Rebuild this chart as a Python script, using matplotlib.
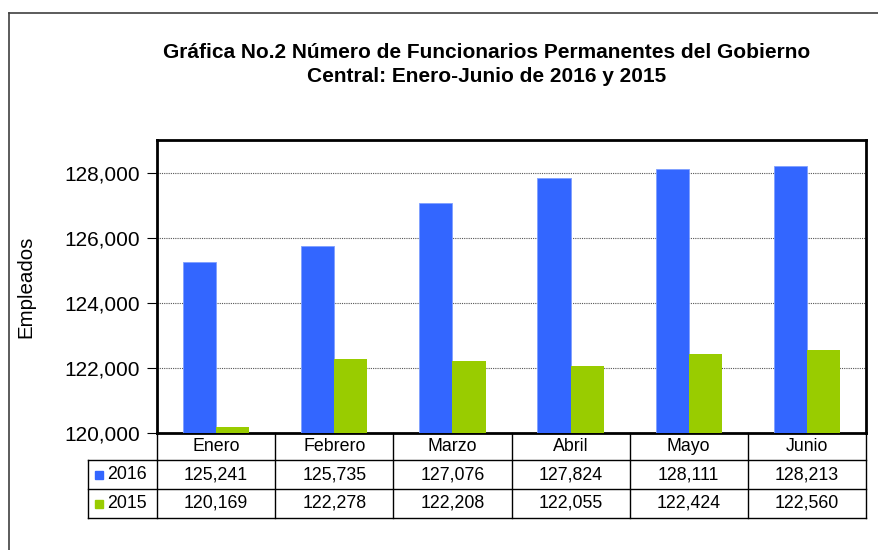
import matplotlib.pyplot as plt
import numpy as np

plt.rcParams['font.family'] = ['Liberation Sans', 'DejaVu Sans']

meses = ["Enero", "Febrero", "Marzo", "Abril", "Mayo", "Junio"]
emp_2016 = [125241, 125735, 127076, 127824, 128111, 128213]
emp_2015 = [120169, 122278, 122208, 122055, 122424, 122560]
series = ["2016", "2015"]
colores = ["#3366FF", "#99CC00"]

W, H = 879, 550
fig = plt.figure(figsize=(W / 100, H / 100), dpi=100)

# outer gray frame (runs off the right/bottom edge like the screenshot)
fig.add_artist(plt.Line2D([9 / W, 9 / W], [0, 1 - 13 / H], color="#404040", lw=1.2))
fig.add_artist(plt.Line2D([9 / W, 1], [1 - 13 / H, 1 - 13 / H], color="#404040", lw=1.2))

x0, x1, ytop, ybot = 157, 866, 140, 433
ax = fig.add_axes([x0 / W, 1 - ybot / H, (x1 - x0) / W, (ybot - ytop) / H])

x = np.arange(len(meses))
bw = 0.28
ax.bar(x - bw / 2, emp_2016, bw, color=colores[0], edgecolor="#7f9fff", lw=0.6, zorder=3)
ax.bar(x + bw / 2, emp_2015, bw, color=colores[1], zorder=3)

ax.set_xlim(-0.5, len(meses) - 0.5)
ax.set_ylim(120000, 129000)
ax.set_yticks(np.arange(120000, 128001, 2000))
ax.yaxis.set_major_formatter(plt.FuncFormatter(lambda v, p: f"{int(v):,}"))
ax.tick_params(axis="y", labelsize=15, length=7, direction="out", pad=5)
ax.set_xticks([])
ax.grid(axis="y", color="#555555", ls=(0, (1, 1)), lw=0.8, zorder=0)
for s in ax.spines.values():
    s.set_linewidth(2)
    s.set_color("black")
ax.set_ylabel("Empleados", fontsize=14.8)
ax.yaxis.set_label_coords((35 - x0) / (x1 - x0), 0.5)

fig.text(487 / W, 1 - 53 / H, "Gráfica No.2 Número de Funcionarios Permanentes del Gobierno",
         ha="center", va="center", fontsize=15, fontweight="bold")
fig.text(487 / W, 1 - 77 / H, "Central: Enero-Junio de 2016 y 2015",
         ha="center", va="center", fontsize=15, fontweight="bold")

# data table below the plot, in axes coords
pw, ph = x1 - x0, ybot - ytop
def ay(py):
    return (ybot - py) / ph
def axx(px):
    return (px - x0) / pw

rows_y = [433, 460, 489, 518]
lab_left = 88
lk = dict(transform=ax.transAxes, clip_on=False, color="black", lw=1)
n = len(meses)
# horizontal lines
ax.plot([0, 1], [ay(rows_y[1])] * 2, **lk)
ax.plot([axx(lab_left), 0], [ay(rows_y[1])] * 2, **lk)
ax.plot([axx(lab_left), 1], [ay(rows_y[2])] * 2, **lk)
ax.plot([axx(lab_left), 1], [ay(rows_y[3])] * 2, **lk)
# vertical lines
for i in range(n + 1):
    ax.plot([i / n, i / n], [0, ay(rows_y[3])], **lk)
ax.plot([axx(lab_left)] * 2, [ay(rows_y[1]), ay(rows_y[3])], **lk)

tk = dict(transform=ax.transAxes, ha="center", va="center", fontsize=12.8, clip_on=False)
for i, m in enumerate(meses):
    cx = (i + 0.5) / n
    ax.text(cx, ay((rows_y[0] + rows_y[1]) / 2), m, **tk)
    ax.text(cx, ay((rows_y[1] + rows_y[2]) / 2), f"{emp_2016[i]:,}", **tk)
    ax.text(cx, ay((rows_y[2] + rows_y[3]) / 2), f"{emp_2015[i]:,}", **tk)

for r, (nombre, c) in enumerate(zip(series, colores)):
    yc = ay((rows_y[r + 1] + rows_y[r + 2]) / 2)
    ax.add_patch(plt.Rectangle((axx(95), yc - 4 / ph), 8 / pw, 8 / ph, color=c,
                               transform=ax.transAxes, clip_on=False))
    ax.text(axx(107), yc, nombre, transform=ax.transAxes, ha="left", va="center",
            fontsize=12.8, clip_on=False)

fig.savefig("out.png", dpi=100)
